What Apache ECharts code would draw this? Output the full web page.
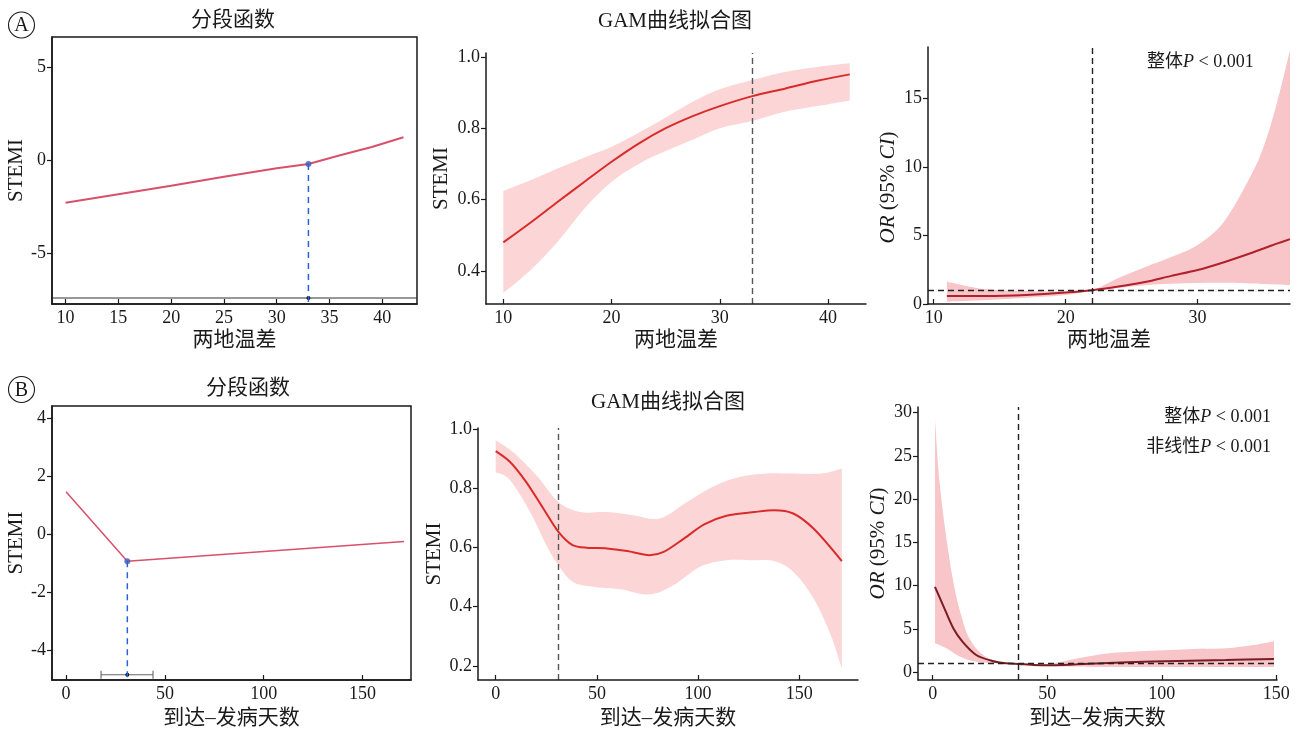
<!DOCTYPE html>
<html>
<head>
<meta charset="utf-8">
<script src="https://cdn.jsdelivr.net/npm/echarts@6/dist/echarts.min.js"></script>
<style>
html, body { margin: 0; padding: 0; background: #fff; }
#main { width: 1300px; height: 731px; }
</style>
</head>
<body>
<div id="main"></div>
<script>
// ---- A: 两地温差 ----
// 分段函数
const a1X = [10, 15, 20, 25, 30, 33, 36, 39, 42];
const a1Y = [-2.3, -1.84, -1.38, -0.9, -0.45, -0.215, 0.25, 0.7, 1.22];
const a1Break = [33, -0.215];
const a1CI = [0, 60, -7.42];          // 断点置信区间 lo, hi, 绘制高度
// GAM
const a2X   = [10, 12.5, 15, 17.5, 20, 22.5, 25, 27.5, 30, 33, 36, 39, 42];
const a2Fit = [0.48, 0.535, 0.593, 0.65, 0.706, 0.757, 0.8, 0.834, 0.862, 0.89, 0.911, 0.933, 0.951];
const a2Up  = [0.624, 0.654, 0.687, 0.718, 0.748, 0.787, 0.83, 0.874, 0.909, 0.935, 0.958, 0.972, 0.982];
const a2Lo  = [0.338, 0.402, 0.481, 0.575, 0.65, 0.7, 0.736, 0.768, 0.8, 0.82, 0.846, 0.862, 0.878];
const a2Cut = 33;
// OR
const a3X   = [11, 14, 17, 20, 22, 24, 26, 28, 30, 32, 34, 35, 36, 37];
const a3Fit = [0.58, 0.58, 0.66, 0.83, 1.0, 1.27, 1.6, 2.05, 2.48, 3.05, 3.7, 4.05, 4.4, 4.73];
const a3Up  = [1.63, 1.07, 0.95, 0.92, 1.02, 1.9, 2.68, 3.42, 4.3, 6.0, 9.3, 11.46, 14.6, 18.5];
const a3Lo  = [0.17, 0.29, 0.46, 0.66, 0.97, 1.16, 1.37, 1.48, 1.53, 1.55, 1.5, 1.46, 1.42, 1.38];
const a3Cut = 22;

// ---- B: 到达-发病天数 ----
const b1X = [0, 31, 171];
const b1Y = [1.47, -0.93, -0.25];
const b1Break = [31, -0.93];
const b1CI = [17.7, 44, -4.86];
// GAM
const b2FitX = [0, 7, 15, 23.5, 31, 38, 45, 55, 65, 76, 83, 93, 103, 114, 128, 137.5, 147, 157, 171];
const b2Fit  = [0.926, 0.89, 0.822, 0.732, 0.653, 0.608, 0.599, 0.597, 0.588, 0.574, 0.585, 0.63, 0.678, 0.707, 0.72, 0.726, 0.715, 0.664, 0.554];
const b2UpX  = [0, 8.5, 20, 31, 42, 55, 68, 81, 94.5, 108, 121, 134, 144, 161, 171];
const b2Up   = [0.963, 0.923, 0.845, 0.754, 0.72, 0.72, 0.709, 0.698, 0.754, 0.808, 0.839, 0.85, 0.85, 0.85, 0.867];
const b2LoX  = [0, 7, 17, 25, 31, 38, 48, 61.5, 76, 88, 101, 114, 128, 137.5, 147, 157, 165.5, 171];
const b2Lo   = [0.854, 0.828, 0.72, 0.608, 0.54, 0.484, 0.467, 0.459, 0.441, 0.473, 0.535, 0.557, 0.557, 0.554, 0.518, 0.428, 0.304, 0.191];
const b2Cut = 31;
// OR
const b3FitX = [1, 4.5, 9, 13, 19, 26, 32, 37.5, 44, 50, 63, 85, 107, 128, 149];
const b3Fit  = [9.88, 7.77, 5.08, 3.54, 2.0, 1.31, 1.04, 0.96, 0.85, 0.81, 0.92, 1.15, 1.31, 1.42, 1.54];
const b3UpX  = [1, 3, 6, 9, 12, 16, 22, 29, 37.5, 50, 63, 77, 93, 114, 128, 140, 149];
const b3Up   = [29.3, 22, 15.5, 10.5, 7.0, 3.9, 2.0, 1.23, 1.04, 0.96, 1.6, 2.2, 2.46, 2.69, 2.77, 3.15, 3.6];
const b3LoX  = [1, 6, 12, 19, 29, 37.5, 50, 70, 99, 128, 149];
const b3Lo   = [3.35, 2.77, 1.8, 1.23, 1.04, 0.92, 0.69, 0.62, 0.62, 0.62, 0.62];
const b3Cut = 37.5;
const orRef = 1;

// tick labels
const a1XTicks = [10, 15, 20, 25, 30, 35, 40];
const a1YTicks = [-5, 0, 5];
const a2XTicks = [10, 20, 30, 40];
const a2YTicks = [0.4, 0.6, 0.8, 1.0];
const a3XTicks = [10, 20, 30];
const a3YTicks = [0, 5, 10, 15];
const b1XTicks = [0, 50, 100, 150];
const b1YTicks = [-4, -2, 0, 2, 4];
const b2XTicks = [0, 50, 100, 150];
const b2YTicks = [0.2, 0.4, 0.6, 0.8, 1.0];
const b3XTicks = [0, 50, 100, 150];
const b3YTicks = [0, 5, 10, 15, 20, 25, 30];

const FONT = "'Liberation Serif', 'Noto Sans CJK SC', serif";
const INK = '#1a1a1a';

function pairs(xs, ys) { return xs.map((x, i) => [x, ys[i]]); }

function axes(idx, xr, yr, xt, yt, xName, yName, xGap, yGap, yFmt, yPad) {
  const nameStyle = { fontSize: 21, fontFamily: FONT, color: INK,
    rich: { i: { fontStyle: 'italic', fontSize: 21, fontFamily: FONT, color: INK } } };
  return {
    x: {
      type: 'value', gridIndex: idx, min: xr[0], max: xr[1], z: 10,
      axisLine: { onZero: false, lineStyle: { color: INK, width: 1.5 } },
      axisTick: { inside: true, length: 5, customValues: xt, lineStyle: { color: INK, width: 1.2 } },
      axisLabel: { customValues: xt, fontSize: 18, fontFamily: FONT, color: INK, margin: 5 },
      splitLine: { show: false },
      name: xName, nameLocation: 'middle', nameGap: xGap, nameTextStyle: nameStyle
    },
    y: {
      type: 'value', gridIndex: idx, min: yr[0], max: yr[1], z: 10,
      axisLine: { show: true, onZero: false, lineStyle: { color: INK, width: 1.5 } },
      axisTick: { show: true, length: 5, customValues: yt, lineStyle: { color: INK, width: 1.2 } },
      axisLabel: { customValues: yt, fontSize: 18, fontFamily: FONT, color: INK, margin: 6,
        formatter: yFmt || (v => String(v)) },
      splitLine: { show: false },
      name: yName, nameLocation: 'middle', nameGap: yGap,
      nameTextStyle: Object.assign({}, nameStyle, yPad ? { padding: yPad } : {})
    }
  };
}

const XA = '两地温差', XB = '到达–发病天数', OR = '{i|OR} (95% {i|CI})';
const f1 = v => v.toFixed(1);
const ax = [
  axes(0, [8.72, 43.28], [-7.74, 6.61], a1XTicks, a1YTicks, XA, 'STEMI', 26, 21),
  axes(1, [8.4, 43.5], [0.307, 1.011], a2XTicks, a2YTicks, XA, 'STEMI', 26, 34, f1),
  axes(2, [9.57, 37], [0, 18.74], a3XTicks, a3YTicks, XA, OR, 26, 29, null, [0, 24, 0, 0]),
  axes(3, [-7.1, 174.5], [-5.04, 4.44], b1XTicks, b1YTicks, XB, 'STEMI', 28, 21),
  axes(4, [-8.75, 179], [0.152, 1.004], b2XTicks, b2YTicks, XB, 'STEMI', 28, 33, f1),
  axes(5, [-6.4, 150.3], [-0.89, 30.65], b3XTicks, b3YTicks, XB, OR, 28, 29)
];

// Catmull-Rom 平滑路径片段
function smoothSeg(pts) {
  let d = '';
  for (let i = 0; i < pts.length - 1; i++) {
    const p0 = pts[Math.max(i - 1, 0)], p1 = pts[i], p2 = pts[i + 1], p3 = pts[Math.min(i + 2, pts.length - 1)];
    const c1 = [p1[0] + (p2[0] - p0[0]) / 6, p1[1] + (p2[1] - p0[1]) / 6];
    const c2 = [p2[0] - (p3[0] - p1[0]) / 6, p2[1] - (p3[1] - p1[1]) / 6];
    d += ' C' + c1.join(' ') + ' ' + c2.join(' ') + ' ' + p2.join(' ');
  }
  return d;
}

// 置信带：上界与下界围成的多边形
function band(idx, upX, up, loX, lo, fill) {
  return {
    type: 'custom', xAxisIndex: idx, yAxisIndex: idx, clip: true, silent: true, z: 1,
    data: pairs(upX, up), encode: { x: 0, y: 1 },
    renderItem: function (params, api) {
      if (params.dataIndex !== 0) return;
      const top = upX.map((x, i) => api.coord([x, up[i]]));
      const bot = loX.map((x, i) => api.coord([x, lo[i]])).reverse();
      const d = 'M' + top[0].join(' ') + smoothSeg(top) + ' L' + bot[0].join(' ') + smoothSeg(bot) + ' Z';
      return { type: 'path', shape: { pathData: d }, style: { fill: fill, stroke: null } };
    }
  };
}

function curve(idx, xs, ys, color, width, marks) {
  const s = {
    type: 'line', xAxisIndex: idx, yAxisIndex: idx, data: pairs(xs, ys),
    smooth: 0.3, showSymbol: false, symbol: 'none', silent: true, z: 3,
    lineStyle: { color: color, width: width }
  };
  if (marks) {
    s.markLine = {
      symbol: 'none', silent: true, label: { show: false }, z: 6,
      lineStyle: { type: [6, 4], color: marks.color, width: 1.4 },
      emphasis: { disabled: true },
      data: marks.data
    };
  }
  return s;
}

function piecewise(idx, xs, ys, brk, yMin, ci, width, ciColor) {
  return [
    { type: 'line', xAxisIndex: idx, yAxisIndex: idx, data: pairs(xs, ys), showSymbol: false,
      symbol: 'none', silent: true, z: 3, lineStyle: { color: '#d9506a', width: width } },
    { type: 'line', xAxisIndex: idx, yAxisIndex: idx, data: [[brk[0], brk[1]], [brk[0], yMin]],
      showSymbol: false, symbol: 'none', silent: true, z: 4,
      lineStyle: { color: '#2a62d8', width: 1.5, type: [6, 5] } },
    { type: 'scatter', xAxisIndex: idx, yAxisIndex: idx, data: [brk], symbolSize: 6, silent: true, z: 5,
      itemStyle: { color: '#3b5fc4' } },
    { type: 'custom', xAxisIndex: idx, yAxisIndex: idx, clip: true, silent: true, z: 4,
      data: [[ci[0], ci[1], ci[2], brk[0]]], encode: { x: [0, 1], y: 2 },
      renderItem: function (params, api) {
        const a = api.coord([api.value(0), api.value(2)]);
        const b = api.coord([api.value(1), api.value(2)]);
        const m = api.coord([api.value(3), api.value(2)]);
        const st = { stroke: ciColor, lineWidth: 1.1 };
        return { type: 'group', children: [
          { type: 'line', shape: { x1: a[0], y1: a[1], x2: b[0], y2: b[1] }, style: st },
          { type: 'line', shape: { x1: a[0], y1: a[1] - 4, x2: a[0], y2: a[1] + 4 }, style: st },
          { type: 'line', shape: { x1: b[0], y1: b[1] - 4, x2: b[0], y2: b[1] + 4 }, style: st },
          { type: 'circle', shape: { cx: m[0], cy: m[1], r: 2 }, style: { fill: '#111' } }
        ] };
      } }
  ];
}

const GAM_FILL = '#fcd6d6', OR_FILL = '#f8c5c8';
const series = [].concat(
  piecewise(0, a1X, a1Y, a1Break, -7.74, a1CI, 2, '#333'),
  [
    band(1, a2X, a2Up, a2X, a2Lo, GAM_FILL),
    curve(1, a2X, a2Fit, '#d92b2b', 2, { color: '#555', data: [{ xAxis: a2Cut }] }),
    band(2, a3X, a3Up, a3X, a3Lo, OR_FILL),
    curve(2, a3X, a3Fit, '#b0212d', 2, { color: '#222', data: [{ xAxis: a3Cut }, { yAxis: orRef }] })
  ],
  piecewise(3, b1X, b1Y, b1Break, -5.04, b1CI, 1.5, '#666'),
  [
    band(4, b2UpX, b2Up, b2LoX, b2Lo, GAM_FILL),
    curve(4, b2FitX, b2Fit, '#d92b2b', 2, { color: '#555', data: [{ xAxis: b2Cut }] }),
    band(5, b3UpX, b3Up, b3LoX, b3Lo, OR_FILL),
    curve(5, b3FitX, b3Fit, '#7a1c24', 2, { color: '#222', data: [{ xAxis: b3Cut }, { yAxis: orRef }] })
  ]
);

function txt(x, y, text, size, align, rich) {
  const st = { text: text, fontSize: size, fontFamily: FONT, fill: INK, align: align || 'center', verticalAlign: 'middle' };
  if (rich) st.rich = { i: { fontStyle: 'italic', fontSize: size, fontFamily: FONT, fill: INK } };
  return { type: 'text', x: x, y: y, style: st, silent: true };
}
function circ(cx, cy, letter) {
  return [
    { type: 'circle', shape: { cx: cx, cy: cy, r: 13 }, style: { fill: 'none', stroke: INK, lineWidth: 1.1 }, silent: true },
    txt(cx, cy + 1, letter, 20)
  ];
}

const option = {
  animation: false,
  backgroundColor: '#fff',
  grid: [
    { left: 52, top: 37, width: 365, height: 267, show: true, borderColor: INK, borderWidth: 1.5 },
    { left: 486, top: 53, width: 380, height: 251 },
    { left: 928, top: 47, width: 362, height: 257 },
    { left: 52, top: 406, width: 359, height: 274, show: true, borderColor: INK, borderWidth: 1.5 },
    { left: 478, top: 428, width: 380, height: 252 },
    { left: 918, top: 407, width: 359, height: 273 }
  ],
  xAxis: ax.map(a => a.x),
  yAxis: ax.map(a => a.y),
  series: series,
  graphic: [].concat(
    circ(21.5, 25, 'A'), circ(21.5, 389.5, 'B'),
    [
      txt(233, 20, '分段函数', 21),
      txt(675, 21, 'GAM曲线拟合图', 21),
      txt(248, 388, '分段函数', 21),
      txt(668, 402, 'GAM曲线拟合图', 21),
      txt(1147, 62, '整体{i|P} < 0.001', 18, 'left', true),
      txt(1271, 417, '整体{i|P} < 0.001', 18, 'right', true),
      txt(1271, 447, '非线性{i|P} < 0.001', 18, 'right', true)
    ]
  )
};

echarts.init(document.getElementById('main')).setOption(option);
</script>
</body>
</html>
